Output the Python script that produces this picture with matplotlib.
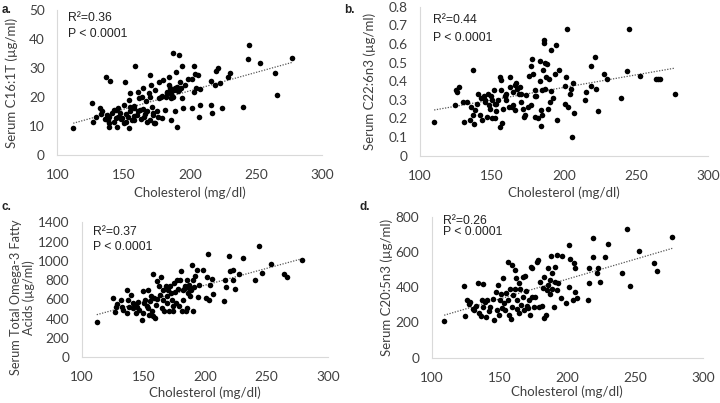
import matplotlib
matplotlib.use("Agg")
import matplotlib.pyplot as plt
import numpy as np

# ---- panel a : Serum C16:1T ----
chol_a = [112, 126, 127, 129, 132, 134, 137, 137.6, 139, 140, 139, 142.6, 144, 145, 146, 149,
          150.6, 151, 152, 154, 154.6, 155, 154, 157.6, 157.6, 159, 160, 160.6, 162, 162.7, 164,
          165, 165.7, 167.7, 169, 170, 170.7, 171.4, 172, 172.7, 174, 175, 176.4, 177, 179, 180,
          181.5, 182, 182.7, 184, 185, 185.7, 187, 187.7, 189, 189.7, 190.7, 191.5, 191.5, 192.7,
          194, 194, 195, 196.5, 199, 201.5, 202, 202.8, 203, 204, 205, 206.5, 207, 207.8, 207.8,
          215.8, 215.8, 216.5, 219, 219.8, 221.6, 223, 224, 229, 230, 240, 244, 245, 253, 264,
          266, 277,
          138, 141, 143, 146, 148, 150, 153, 156, 158, 161, 163, 166, 168, 170, 172, 174, 176,
          178, 183, 185, 186, 188, 189, 190, 191, 193, 186, 184, 179, 170, 167, 165, 158, 155,
          152, 147, 144, 139, 136, 133]
c16_a = [9.2, 17.8, 11.5, 13.2, 16.1, 15, 27, 13.8, 10.9, 25.6, 9.8, 15.5, 12.6, 9.8, 16.1, 12.6,
         17.2, 25.3, 11.5, 19, 15, 21.3, 9.2, 16.1, 12, 30.5, 13.8, 21.8, 19.5, 15.5, 20.1,
         23, 13.2, 11.5, 21.3, 27.6, 24.1, 16.7, 13.8, 10.9, 22.4, 15, 19.5, 25.3, 12.6, 25.9,
         15.5, 20.1, 21.8, 27, 23, 12, 35.3, 20.1, 15, 28.7, 9.8, 34.5, 22.4, 25.3,
         30.5, 19.5, 16.1, 24.1, 26.1, 26.1, 16.1, 30.7, 21.8, 27.9, 23, 27.6, 13, 22.6, 17.2,
         25.6, 17.2, 14.4, 24.1, 29.1, 29.9, 24.7, 16.1, 26.8, 28.4, 16.4, 33, 37.9, 31.6, 28.4,
         20.7, 33.3,
         12, 14.5, 11.5, 13, 12.5, 11, 13, 12, 13.5, 15, 12.5, 14, 15, 12, 14.5, 11, 13,
         20, 21.5, 22, 21, 22.5, 23, 23.5, 22, 23, 19.5, 24, 20.5, 20, 18.5, 16, 17, 16.5,
         14, 14.5, 15.5, 13, 12.5, 14]

# ---- panel b : Serum C22:6n3 ----
chol_b = [110, 124.3, 125, 126, 127.3, 130, 131, 133, 134.7, 135.8, 137, 137, 137.7, 138.6, 140,
          140.5, 141.6, 142.8, 143.2, 144.6, 145.5, 147, 147.4, 148.6, 149.2, 150.2, 151.6, 152,
          152.5, 153.2, 154.3, 155.5, 156, 156.2, 156.6, 157, 157.8, 159, 160, 161.7, 162.4, 163,
          164, 164.7, 165.9, 166.4, 167, 167.7, 168.7, 169.4, 170.5, 171.7, 172.4, 173.3, 174,
          175.6, 177, 177.5, 178, 178.6, 179.8, 180.2, 181, 182, 183.2, 183.2, 184, 184.4, 184.9,
          185.5, 186.2, 186.2, 186.7, 187.2, 187.9, 188.6, 189, 190.2, 190.9, 191.3, 192.5, 193.6,
          194.8, 195, 197, 200.6, 201, 201.7, 202.4, 203, 204, 205.2, 205.7, 206.4, 207, 214.5,
          215.6, 218.6, 219, 221.4, 222.5, 223.7, 228, 230, 240, 244, 245, 253, 264, 265.3,
          266.5, 277,
          145, 150, 160, 165, 170, 175, 180, 185, 190, 153, 148]
c22_b = [0.18, 0.27, 0.35, 0.34, 0.37, 0.29, 0.18, 0.29, 0.19, 0.26, 0.46, 0.22, 0.17, 0.245, 0.28,
         0.33, 0.22, 0.31, 0.19, 0.32, 0.29, 0.21, 0.33, 0.25, 0.32, 0.2, 0.35, 0.2,
         0.28, 0.24, 0.3, 0.155, 0.42, 0.405, 0.35, 0.175, 0.25, 0.32, 0.33, 0.26, 0.42, 0.37,
         0.26, 0.34, 0.38, 0.245, 0.39, 0.356, 0.33, 0.37, 0.29, 0.25, 0.21, 0.22, 0.325,
         0.43, 0.27, 0.48, 0.52, 0.44, 0.35, 0.21, 0.32, 0.2, 0.51, 0.4, 0.245, 0.16, 0.22,
         0.46, 0.62, 0.605, 0.495, 0.356, 0.42, 0.49, 0.25, 0.29, 0.565, 0.345, 0.31, 0.44,
         0.595, 0.19, 0.46, 0.28, 0.375, 0.42, 0.68, 0.26, 0.33, 0.356, 0.1, 0.39, 0.23, 0.3,
         0.34, 0.48, 0.375, 0.53, 0.36, 0.24, 0.44, 0.41, 0.31, 0.455, 0.68, 0.43, 0.41, 0.41,
         0.41, 0.33,
         0.3, 0.3, 0.3, 0.27, 0.33, 0.26, 0.32, 0.35, 0.41, 0.28, 0.27]

# ---- panel c : Serum total omega-3 fatty acids ----
chol_c = [112.2, 125.7, 127.1, 127.9, 129, 131.7, 132.5, 133.3, 136.5, 137.1, 137.9, 138.7, 139.8,
          141.4, 141.9, 143.3, 144.1, 144.7, 146, 146.8, 148.7, 149.5, 150.1, 150.6, 151.7, 152.8,
          153.6, 154.1, 154.4, 155.5, 156, 156.8, 157.6, 158.2, 158.7, 159.5, 160.4, 160.9, 161.4,
          163.1, 163.6, 164.4, 165, 165.8, 166.3, 166.8, 168.2, 169, 169.6, 170.4, 171.2, 171.7,
          172.3, 173.1, 173.9, 174.4, 175, 175.8, 176.6, 177.7, 178.5, 179.3, 179.8, 180.4, 181.2,
          182, 182.5, 183.4, 184.2, 184.7, 185.3, 185.8, 186.6, 186.9, 187.4, 188, 188.5, 189.3,
          190.1, 190.7, 191.2, 192, 193.4, 194.7, 195.5, 198.2, 200.9, 201.5, 202.8, 203.7, 204.2,
          205.5, 206.9, 215.6, 216.4, 217.2, 219.9, 220.4, 222.6, 223.1, 224.5, 228, 230.7, 240.7,
          244.3, 246.1, 253.5, 264.3, 266.4, 278.6]
omega3_c = [366, 614, 466, 521, 552, 597, 521, 493, 700, 459, 597, 521, 648,
            562, 510, 545, 459, 521, 569, 493, 390, 459, 683, 562, 597, 534,
            510, 700, 441, 579, 631, 476, 866, 424, 614, 407, 545, 786, 603,
            734, 648, 831, 510, 700, 597, 476, 741, 562, 631, 700, 476, 734,
            666, 597, 534, 476, 769, 672, 562, 803, 707, 528, 803, 890, 476,
            700, 597, 707, 741, 476, 510, 803, 666, 717, 752, 631, 700, 959,
            476, 803, 728, 838, 907, 624, 752, 907, 614, 831, 1069, 597, 752,
            810, 659, 579, 803, 728, 1052, 897, 900, 803, 707, 866, 1028, 803,
            1159, 879, 969, 866, 831, 1010]

# ---- panel d : Serum C20:5n3 ----
chol_d = [109, 124, 124.5, 126, 127, 128, 130, 131, 132.5, 134, 135, 136, 137, 137.5, 138, 139,
          140, 141, 142, 143, 145, 146, 147.5, 148, 149, 149.5, 150, 151, 152, 152.5, 153, 154,
          154.5, 156, 156, 157, 157.5, 158, 159, 159, 160, 161, 161, 162, 162.5, 163, 164, 164.5,
          165, 166, 167, 167.5, 168, 169, 169.5, 170, 171, 172, 172.5, 173, 174, 174, 175, 176,
          177.5, 178, 179, 180, 181, 182, 182.5, 183, 184, 185, 186, 186, 187, 187.5, 188, 189,
          189, 190, 191, 191, 192, 192.5, 193, 195, 196, 199, 201, 201, 202, 204, 205, 206, 206,
          207, 215, 216, 216, 219, 219, 222, 223, 224, 228, 230, 240, 244, 246, 253, 264, 266,
          277.5]
c20_d = [210, 406, 238, 327, 304, 318, 274, 270, 293, 425, 255, 236, 327, 418, 289, 318,
         233, 327, 267, 285, 331, 214, 374, 270, 412, 242, 327, 361, 280, 450, 308, 270,
         365, 544, 327, 242, 387, 217, 525, 289, 355, 387, 497, 450, 274, 327, 421, 251,
         387, 299, 456, 346, 270, 463, 380, 293, 280, 327, 242, 516, 507, 346, 285, 346,
         544, 554, 289, 431, 293, 393, 459, 223, 242, 384, 507, 412, 361, 440, 576, 387,
         482, 289, 516, 431, 384, 582, 425, 336, 576, 308, 399, 639, 558, 327, 535, 374, 507,
         336, 327, 507, 425, 677, 573, 482, 507, 431, 569, 645, 482, 730, 406, 605, 535, 491,
         686]

panels = [
    dict(x=chol_a, y=c16_a, ylim=50, ystep=10, fmt="{:.0f}",
         ylabel="Serum C16:1T (\u00b5g/ml)", r2="R\u00b2=0.36", tag="a.",
         rect=[0.0796, 0.6154, 0.368, 0.360], txt=(0.04, 0.985, 0.875),
         ylab_xy=(0.016, 0.795), ylab_fs=9.5, xlab_y=0.523, tag_xy=(0.002, 0.99)),
    dict(x=chol_b, y=c22_b, ylim=0.8, ystep=0.1, fmt="{:g}",
         ylabel="Serum C22:6n3 (\u00b5g/ml)", r2="R\u00b2=0.44", tag="b.",
         rect=[0.583, 0.6136, 0.400, 0.370], txt=(0.045, 0.95, 0.83),
         ylab_xy=(0.514, 0.798), ylab_fs=9.5, xlab_y=0.521, tag_xy=(0.478, 0.99)),
    dict(x=chol_c, y=omega3_c, ylim=1400, ystep=200, fmt="{:.0f}",
         ylabel="Serum Total Omega-3 Fatty\nAcids (\u00b5g/ml)", r2="R\u00b2=0.37", tag="c.",
         rect=[0.1135, 0.1141, 0.342, 0.334], txt=(0.045, 0.975, 0.862),
         ylab_xy=(0.031, 0.262), ylab_fs=9.2, xlab_y=0.025, tag_xy=(0.002, 0.5)),
    dict(x=chol_d, y=c20_d, ylim=800, ystep=200, fmt="{:.0f}",
         ylabel="Serum C20:5n3 (\u00b5g/ml)", r2="R\u00b2=0.26", tag="d.",
         rect=[0.600, 0.1124, 0.376, 0.350], txt=(0.04, 1.01, 0.935),
         ylab_xy=(0.537, 0.287), ylab_fs=9.5, xlab_y=0.027, tag_xy=(0.499, 0.5)),
]

tick_font = "Lato"
note_font = "Liberation Sans"
grey_txt = "#404040"
axis_col = "#d9d9d9"

fig = plt.figure(figsize=(7.2, 4.03), dpi=100)

for p in panels:
    ax = fig.add_axes(p["rect"])
    x = np.array(p["x"], dtype=float)
    y = np.array(p["y"], dtype=float)
    ax.scatter(x, y, s=16, color="black", linewidths=0, zorder=3)

    # linear trend line
    k, b = np.polyfit(x, y, 1)
    xs = np.array([x.min(), x.max()])
    ax.plot(xs, k * xs + b, linestyle=(0, (1, 1.2)), color="#555555", lw=0.9, zorder=2)

    ax.set_xlim(100, 300)
    ax.set_ylim(0, p["ylim"])
    ax.set_xticks(np.arange(100, 301, 50))
    yt = np.arange(0, p["ylim"] + p["ystep"] / 2, p["ystep"])
    ax.set_yticks(yt)
    ax.set_yticklabels([p["fmt"].format(round(v, 2)) for v in yt])
    ax.tick_params(length=0, labelsize=9.8, colors=grey_txt)
    ax.tick_params(axis="x", pad=10)
    ax.tick_params(axis="y", pad=9)
    for lab in ax.get_xticklabels() + ax.get_yticklabels():
        lab.set_family(tick_font)
    for s in ["top", "right"]:
        ax.spines[s].set_visible(False)
    for s in ["left", "bottom"]:
        ax.spines[s].set_color(axis_col)
        ax.spines[s].set_linewidth(0.8)

    tx, ty1, ty2 = p["txt"]
    ax.text(tx, ty1, p["r2"], transform=ax.transAxes, ha="left", va="top",
            fontsize=8.8, family=note_font, color="#222222")
    ax.text(tx, ty2, "P < 0.0001", transform=ax.transAxes, ha="left", va="top",
            fontsize=8.8, family=note_font, color="#222222")

    l, bt, w, h = p["rect"]
    fig.text(p["ylab_xy"][0], p["ylab_xy"][1], p["ylabel"], rotation=90, ha="center",
             va="center", fontsize=p["ylab_fs"], family=tick_font, color=grey_txt,
             linespacing=1.05)
    fig.text(l + w / 2, p["xlab_y"], "Cholesterol (mg/dl)", ha="center", va="center",
             fontsize=9.5, family=tick_font, color=grey_txt)
    fig.text(p["tag_xy"][0], p["tag_xy"][1], p["tag"], ha="left", va="top",
             fontsize=8.5, family=note_font, weight="bold", color="#222222")

fig.savefig("out.png", dpi=100, facecolor="white")
